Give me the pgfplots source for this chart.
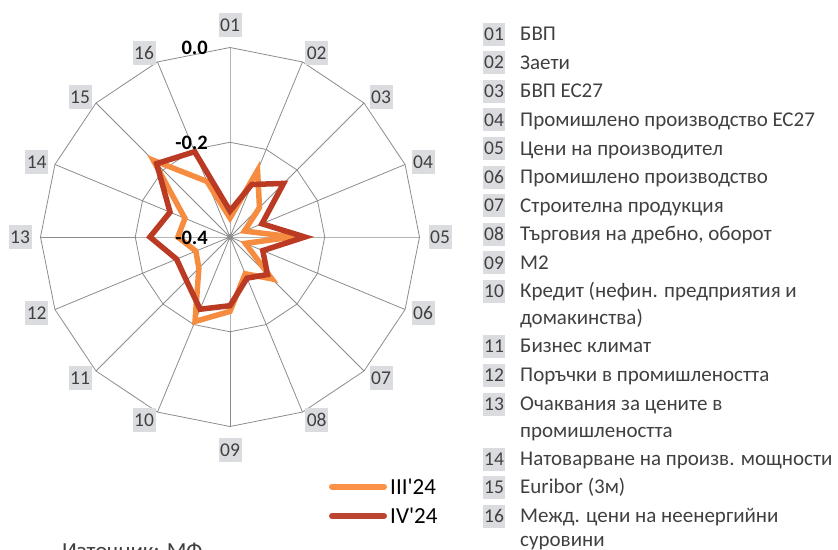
\documentclass[border=0pt]{standalone}
\usepackage{pgfplots}
\pgfplotsset{compat=1.18}
\usepgfplotslibrary{polar}
\usepackage{fontspec}
\setmainfont{Carlito}
\definecolor{orng}{RGB}{246,140,64}
\definecolor{dred}{RGB}{186,58,36}
\definecolor{lorng}{RGB}{252,146,72}
\definecolor{ldred}{RGB}{190,68,50}
\definecolor{gridc}{RGB}{140,140,140}
\definecolor{boxc}{RGB}{219,220,224}
\definecolor{txt}{RGB}{64,64,64}
\newcommand\lab[3]{\fill[boxc] (#1-11.5,-#2+12) rectangle (#1+11.5,-#2-12);
  \node[anchor=base,text=txt,inner sep=0pt] at (#1,-#2-6.3) {#3};}
\newcommand\litem[3]{\fill[boxc] (483,-#1+11.5) rectangle (505,-#1-11.5);
  \node[anchor=base,text=txt,inner sep=0pt] at (494,-#1-6.3) {#2};
  \node[anchor=base west,text=txt,inner sep=0pt,font=\fontsize{21}{24}\selectfont] at (520,-#1-6.6) {#3};}
\newcommand\cont[2]{\node[anchor=base west,text=txt,inner sep=0pt,font=\fontsize{21}{24}\selectfont] at (520,-#1-6.6) {#2};}
\begin{document}
\fontsize{19.5}{23}\selectfont
\begin{tikzpicture}[x=1pt,y=1pt]
\useasboundingbox (0,0) rectangle (838,-549);
\begin{polaraxis}[at={(230pt,-237pt)}, anchor=center, scale only axis,
  width=379pt, height=379pt, ymin=0, ymax=0.4,
  xtick=\empty, ytick=\empty, axis line style={draw=none},
  y filter/.expression={y+0.4}, clip=false]
% grid rings
\addplot[gridc, line width=0.8pt, mark=none] coordinates {(90,-0.2)(67.5,-0.2)(45,-0.2)(22.5,-0.2)(0,-0.2)(-22.5,-0.2)(-45,-0.2)(-67.5,-0.2)(-90,-0.2)(-112.5,-0.2)(-135,-0.2)(-157.5,-0.2)(180,-0.2)(157.5,-0.2)(135,-0.2)(112.5,-0.2)} -- cycle;
\addplot[gridc, line width=0.8pt, mark=none] coordinates {(90,0)(67.5,0)(45,0)(22.5,0)(0,0)(-22.5,0)(-45,0)(-67.5,0)(-90,0)(-112.5,0)(-135,0)(-157.5,0)(180,0)(157.5,0)(135,0)(112.5,0)} -- cycle;
% spokes
\addplot[gridc, line width=0.8pt, mark=none] coordinates {(90,0)(90,-0.4)(270,0)};
\addplot[gridc, line width=0.8pt, mark=none] coordinates {(67.5,0)(67.5,-0.4)(247.5,0)};
\addplot[gridc, line width=0.8pt, mark=none] coordinates {(45,0)(45,-0.4)(225,0)};
\addplot[gridc, line width=0.8pt, mark=none] coordinates {(22.5,0)(22.5,-0.4)(202.5,0)};
\addplot[gridc, line width=0.8pt, mark=none] coordinates {(0,0)(0,-0.4)(180,0)};
\addplot[gridc, line width=0.8pt, mark=none] coordinates {(-22.5,0)(-22.5,-0.4)(157.5,0)};
\addplot[gridc, line width=0.8pt, mark=none] coordinates {(-45,0)(-45,-0.4)(135,0)};
\addplot[gridc, line width=0.8pt, mark=none] coordinates {(-67.5,0)(-67.5,-0.4)(112.5,0)};
% III'24
\addplot[orng, line width=5.5pt, line join=miter, miter limit=10, mark=none] coordinates {
(90,-0.36)(67.5,-0.248)(45,-0.312)(22.5,-0.367)(0,-0.267)(-22.5,-0.365)(-45,-0.275)(-67.5,-0.316)
(-90,-0.243)(-112.5,-0.207)(-135,-0.307)(-157.5,-0.322)(180,-0.29)(157.5,-0.297)(135,-0.171)(112.5,-0.273)} -- cycle;
% IV'24
\addplot[dred, line width=5.5pt, line join=miter, miter limit=10, mark=none] coordinates {
(90,-0.345)(67.5,-0.28)(45,-0.24)(22.5,-0.327)(0,-0.242)(-22.5,-0.325)(-45,-0.288)(-67.5,-0.306)
(-90,-0.255)(-112.5,-0.235)(-135,-0.27)(-157.5,-0.278)(180,-0.231)(157.5,-0.263)(135,-0.181)(112.5,-0.205)} -- cycle;
\end{polaraxis}
% center dot
\fill[gridc] (230,-237) circle (3);
% radial tick labels
\node[anchor=base east,inner sep=0pt,font=\fontsize{20.5}{24}\bfseries] at (208,-48-6.5) {0.0};
\node[anchor=base east,inner sep=0pt,font=\fontsize{20.5}{24}\bfseries] at (208,-143-6.5) {-0.2};
\node[anchor=base east,inner sep=0pt,font=\fontsize{20.5}{24}\bfseries] at (208,-238-6.5) {-0.4};
% spoke labels
\lab{230}{25}{01}
\lab{316.7}{53.3}{02}
\lab{381}{97}{03}
\lab{423}{162}{04}
\lab{440}{237}{05}
\lab{423}{313}{06}
\lab{381}{378}{07}
\lab{316.7}{420}{08}
\lab{230}{450}{09}
\lab{144}{420}{10}
\lab{80}{378}{11}
\lab{36.7}{313}{12}
\lab{20}{237}{13}
\lab{36.7}{162}{14}
\lab{80}{97}{15}
\lab{144}{53.3}{16}
% legend
\draw[lorng, line width=6pt, line cap=round] (332,-486.7) -- (384,-486.7);
\node[anchor=base west,inner sep=0pt,font=\fontsize{23}{26}\selectfont] at (390,-486.7-7.3) {III\textquotesingle 24};
\draw[ldred, line width=6pt, line cap=round] (332,-516) -- (384,-516);
\node[anchor=base west,inner sep=0pt,font=\fontsize{23}{26}\selectfont] at (390,-516-7.3) {IV\textquotesingle 24};
% source
\node[anchor=base west,text=txt,inner sep=0pt,font=\fontsize{23}{26}\selectfont] at (62,-558.5) {Източник: МФ};
% list
\litem{34}{01}{БВП}
\litem{62.6}{02}{Заети}
\litem{91.2}{03}{БВП ЕС27}
\litem{119.8}{04}{Промишлено производство ЕС27}
\litem{148.4}{05}{Цени на производител}
\litem{177}{06}{Промишлено производство}
\litem{205.6}{07}{Строителна продукция}
\litem{234.2}{08}{Търговия на дребно, оборот}
\litem{262.8}{09}{М2}
\litem{291}{10}{Кредит (нефин. предприятия и}
\cont{318}{домакинства)}
\litem{346}{11}{Бизнес климат}
\litem{375}{12}{Поръчки в промишлеността}
\litem{404}{13}{Очаквания за цените в}
\cont{431}{промишлеността}
\litem{459}{14}{Натоварване на произв. мощности}
\litem{487}{15}{Euribor (3м)}
\litem{516}{16}{Межд. цени на неенергийни}
\cont{539.5}{суровини}
\end{tikzpicture}
\end{document}
